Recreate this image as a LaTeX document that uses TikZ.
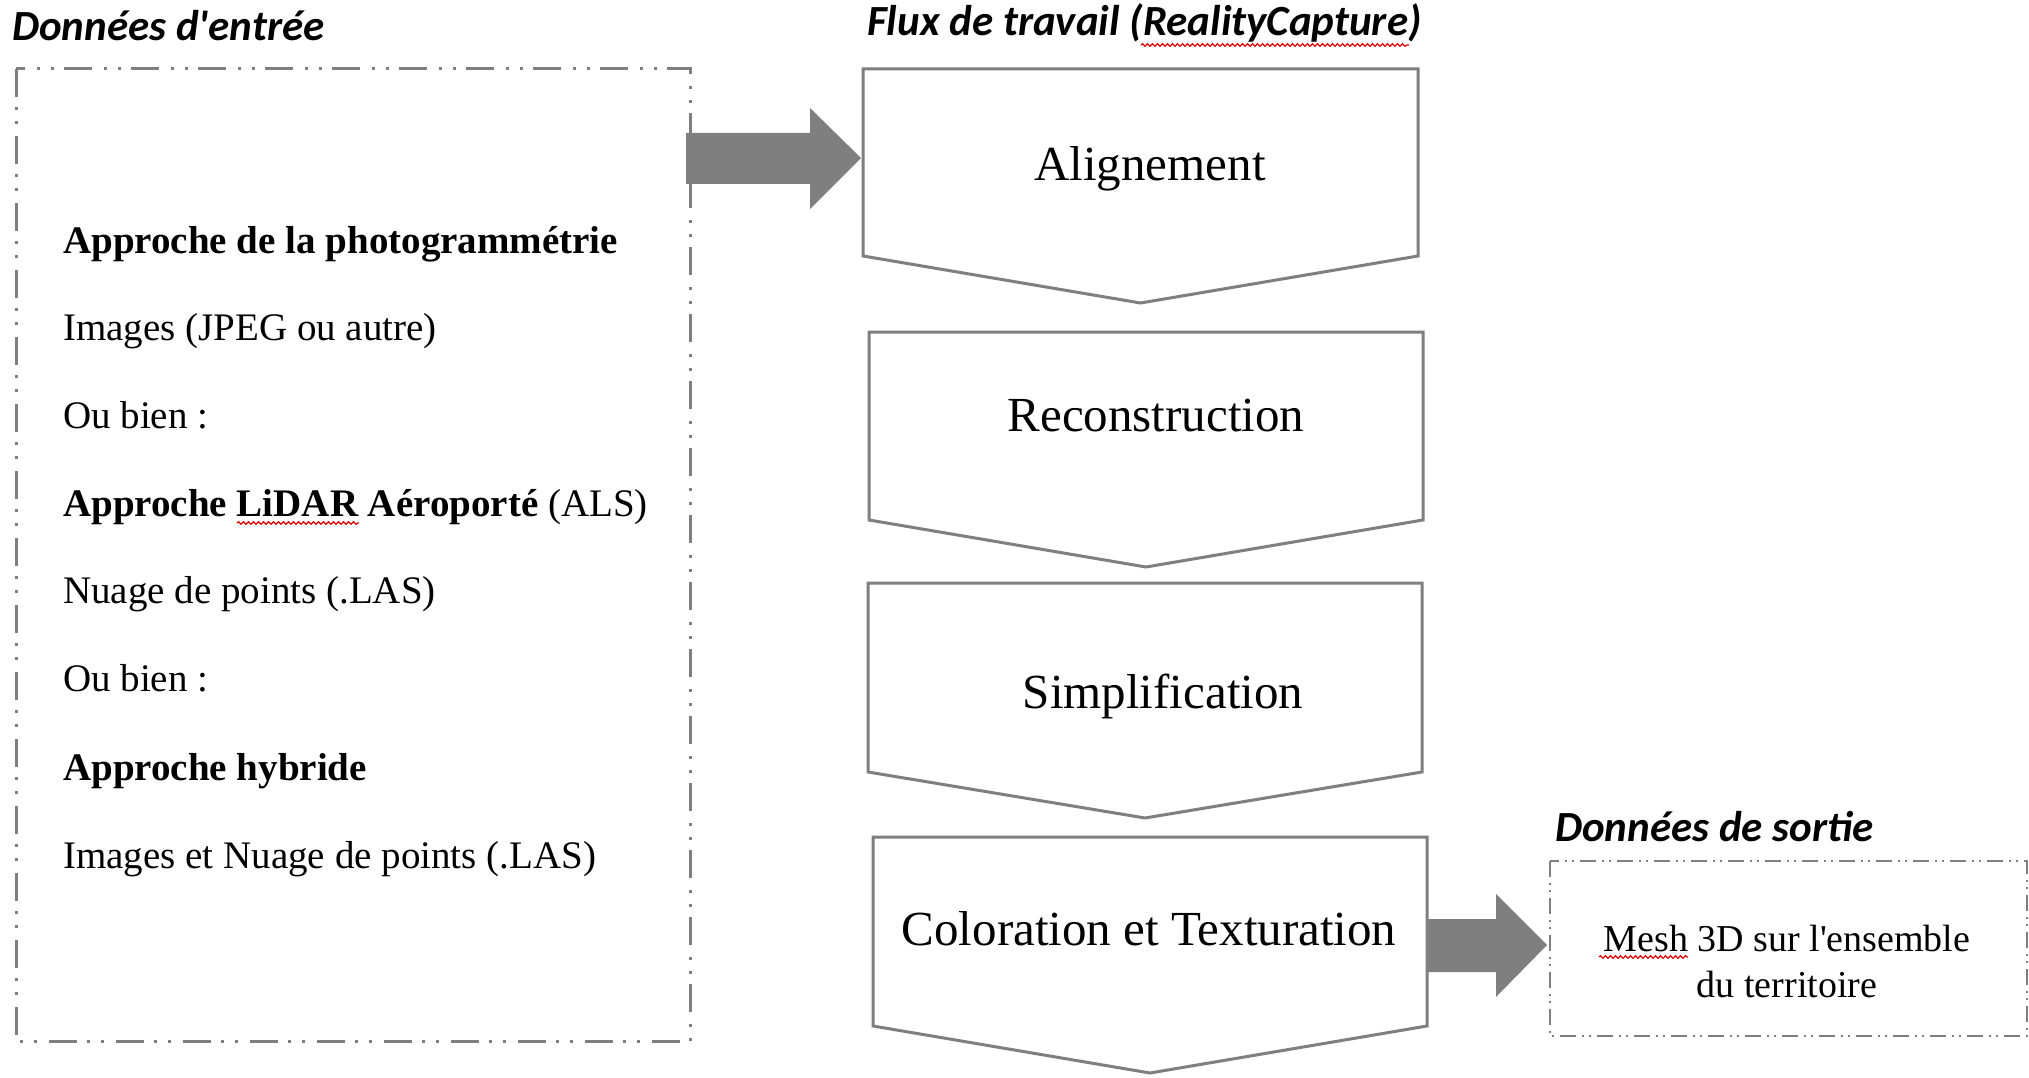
\documentclass[tikz,border=0pt]{standalone}
\usepackage{fontspec}
\setmainfont{Liberation Serif}[Ligatures=TeXOff]
\newfontfamily\titlefont{Carlito}[Ligatures=TeXOff]
\usetikzlibrary{decorations.pathmorphing}
\definecolor{linegray}{HTML}{7F7F7F}
\definecolor{squig}{HTML}{E00000}
\begin{document}
\begin{tikzpicture}[x=1pt,y=-1pt,
  title/.style={anchor=base west, inner sep=0, font=\titlefont\bfseries\itshape\fontsize{43}{50}\selectfont},
  body/.style={anchor=base west, inner sep=0, font=\fontsize{39}{46}\selectfont},
  steplabel/.style={anchor=base, inner sep=0, font=\fontsize{49}{56}\selectfont},
  outtext/.style={anchor=base, inner sep=0, font=\fontsize{38}{45}\selectfont},
  chevron/.style={draw=linegray, line width=3pt, line join=miter, fill=white},
  inframe/.style={draw=linegray, line width=3pt, dash pattern=on 28pt off 10pt on 3pt off 11pt on 3pt off 12pt},
  outframe/.style={draw=linegray, line width=1.5pt, dash pattern=on 16pt off 6pt on 2pt off 5pt on 2pt off 6pt},
  blockarrow/.style={fill=linegray, draw=none},
  spell/.style={draw=squig, line width=1.2pt, decorate, decoration={snake, amplitude=1.3pt, segment length=5pt}}
]
\fill[white] (0,0) rectangle (2029,1078);
\useasboundingbox (0,0) rectangle (2029,1078);

% block arrows
\fill[blockarrow] (686,133) -- (810,133) -- (810,108) -- (861,158) -- (810,209) -- (810,184) -- (686,184) -- cycle;
\fill[blockarrow] (1428,919) -- (1496,919) -- (1496,894) -- (1547,945) -- (1496,997) -- (1496,972) -- (1428,972) -- cycle;

% input frame
\draw[inframe] (16,69) rectangle (690,1041);

% chevrons
\draw[chevron] (863,69) -- (1418,69) -- (1418,256) -- (1140.5,303) -- (863,256) -- cycle;
\draw[chevron] (869,332) -- (1423,332) -- (1423,520) -- (1146,567) -- (869,520) -- cycle;
\draw[chevron] (868,583) -- (1422,583) -- (1422,772) -- (1145,818) -- (868,772) -- cycle;
\draw[chevron] (873,837) -- (1427,837) -- (1427,1026) -- (1150,1073) -- (873,1026) -- cycle;

% output frame
\draw[outframe] (1550,861) rectangle (2027,1036);

% titles
\node[title] (tin) at (12,41) {Données d'entrée};
\node[title] (tflow) at (867,36) {Flux de travail (RealityCapture)};
\node[title] (tout) at (1555,841) {Données de sortie};

% input text
\node[body] (l1) at (63,253.5) {\textbf{Approche de la photogrammétrie}};
\node[body] (l2) at (63,340) {Images (JPEG ou autre)};
\node[body] (l3) at (63,428) {Ou bien :};
\node[body] (l4) at (63,516) {\textbf{Approche LiDAR Aéroporté} (ALS)};
\node[body] (l5) at (63,603) {Nuage de points (.LAS)};
\node[body] (l6) at (63,691) {Ou bien :};
\node[body] (l7) at (63,780) {\textbf{Approche hybride}};
\node[body] (l8) at (63,868) {Images et Nuage de points (.LAS)};

% step labels
\node[steplabel] (s1) at (1150,181) {Alignement};
\node[steplabel] (s2) at (1156,431) {Reconstruction};
\node[steplabel] (s3) at (1163,708) {Simplification};
\node[steplabel] (s4) at (1149,945) {Coloration et Texturation};

% output text
\node[outtext] (o1) at (1787,951) {Mesh 3D sur l'ensemble};
\node[outtext] (o2) at (1787,997) {du territoire};

% spell-check underlines
\draw[spell] (1141,45) -- (1409,45);
\draw[spell] (237,523) -- (359,523);
\draw[spell] (1599,957) -- (1688,957);
\end{tikzpicture}
\end{document}
